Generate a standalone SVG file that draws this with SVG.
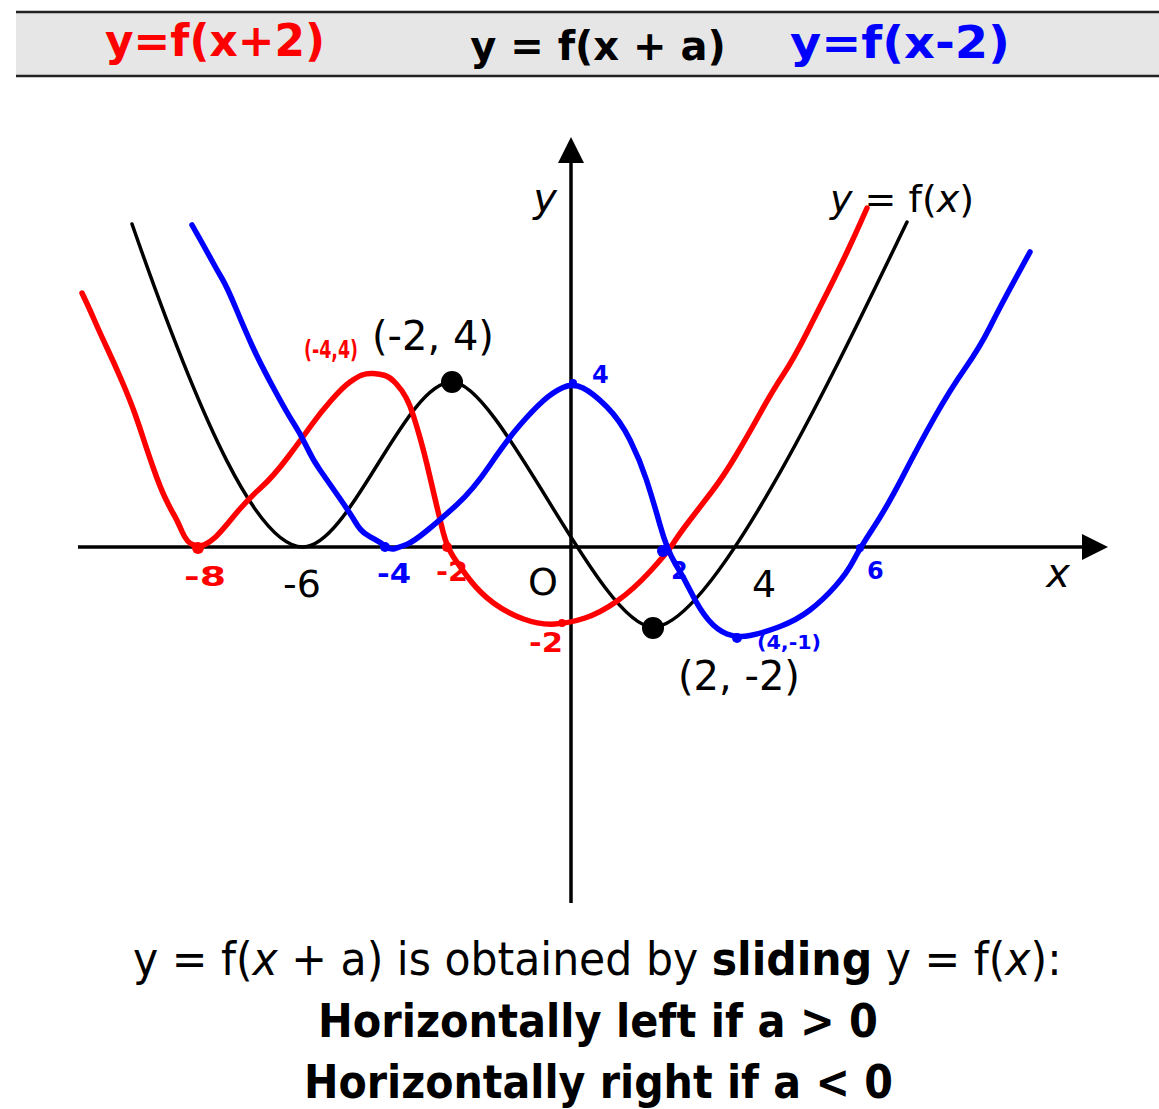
<svg xmlns="http://www.w3.org/2000/svg" width="1159" height="1109" viewBox="0 0 1159 1109">
<style>
.t{font-family:"DejaVu Sans","Liberation Sans",sans-serif;fill:#000}
.hw{font-family:"DejaVu Sans","Liberation Sans",sans-serif;font-weight:bold}
.red{fill:#ff0000}
.blue{fill:#0000ff}
.crv{fill:none;stroke-linejoin:round;stroke-linecap:round}
</style>
<rect width="1159" height="1109" fill="#ffffff"/>
<g id="header">
<rect x="16" y="12" width="1143" height="64" fill="#e6e6e6"/>
<line x1="16" y1="12" x2="1159" y2="12" stroke="#222" stroke-width="2.5"/>
<line x1="16" y1="76" x2="1159" y2="76" stroke="#222" stroke-width="2.5"/>
<text class="t" x="598" y="60" font-size="40" font-weight="bold" text-anchor="middle">y = f(x + a)</text>
<text class="hw red" x="105" y="56" font-size="44" textLength="220" lengthAdjust="spacingAndGlyphs">y=f(x+2)</text>
<text class="hw blue" x="790" y="58" font-size="44" textLength="220" lengthAdjust="spacingAndGlyphs">y=f(x-2)</text>
</g>
<g id="axes">
<line x1="571" y1="903" x2="571" y2="160" stroke="#000" stroke-width="3.5"/>
<polygon points="571,137 584,163 558,163" fill="#000"/>
<line x1="78" y1="547" x2="1085" y2="547" stroke="#000" stroke-width="3.5"/>
<polygon points="1108,547 1082,534 1082,560" fill="#000"/>
</g>
<g id="curve-f">
<path class="crv" stroke="#000" stroke-width="3.5" d="M132,224 C202,425 258,547 303,547 C350,547 405,382 452,382 C500,382 600,627 653,627 C715,627 845,350 907,222"/>
<circle cx="452" cy="382" r="11" fill="#000"/>
<circle cx="653" cy="628" r="11" fill="#000"/>
</g>
<g id="curve-red">
<path class="crv" stroke="#ff0000" stroke-width="5.5" d="M82,293 L86,301.5 Q90,310 95,321.5 Q100,333 107.5,349 Q115,365 122.5,382.5 Q130,400 135,414 Q140,428 143.5,439 Q147,450 153.5,468.5 Q160,487 165,497.5 Q170,508 173.5,514 Q177,520 182,531.5 Q187,543 193.5,545 Q200,547 205,544.5 Q210,542 215,537.5 Q220,533 233.5,516.5 Q247,500 260,488.5 Q273,477 288,457 Q303,437 311.5,425 Q320,413 331.5,400 Q343,387 350,382 Q357,377 362,375 Q367,373 373.5,373.5 Q380,374 385,375.5 Q390,377 396,383.5 Q402,390 406,397.5 Q410,405 413.5,416 Q417,427 420.5,439.5 Q424,452 427,464.5 Q430,477 435,498.5 Q440,520 443.5,533.5 Q447,547 453.5,557 Q460,567 470,580 Q480,593 493.5,603 Q507,613 523.5,619 Q540,625 555,624 Q570,623 585,618 Q600,613 616.5,601.5 Q633,590 650,571.5 Q667,553 673.5,543 Q680,533 690,520 Q700,507 711.5,492 Q723,477 735,457 Q747,437 760,413.5 Q773,390 783,375 Q793,360 806.5,333.5 Q820,307 830,287 Q840,267 847.5,251 Q855,235 861,221.5 L867,208"/>
<circle cx="198" cy="548" r="6" fill="#ff0000"/>
<circle cx="447" cy="547" r="5" fill="#ff0000"/>
<circle cx="562" cy="623" r="4" fill="#ff0000"/>
</g>
<g id="curve-blue">
<path class="crv" stroke="#0000ff" stroke-width="5.5" d="M192,225 L198.5,236.5 Q205,248 211,259 Q217,270 222,278.5 Q227,287 236,308.5 Q245,330 252.5,346.5 Q260,363 273.5,388 Q287,413 293.5,423 Q300,433 306.5,446.5 Q313,460 320,470 Q327,480 338.5,496.5 Q350,513 355,521.5 Q360,530 365,533.5 Q370,537 375,539.5 Q380,542 385,546 Q390,550 395,548.5 Q400,547 406.5,544.5 Q413,542 426.5,531 Q440,520 456.5,505 Q473,490 490,465 Q507,440 520,425 Q533,410 543,401 Q553,392 563,387.5 Q573,383 583,388 Q593,393 606.5,406.5 Q620,420 630,440 Q640,460 646.5,480 Q653,500 660,525 Q667,550 675.5,564 Q684,578 692,594 Q700,610 708.5,620 Q717,630 727,634 Q737,638 750,635.5 Q763,633 780,626.5 Q797,620 810,610 Q823,600 835,586.5 Q847,573 853.5,560.5 Q860,548 873.5,527.5 Q887,507 903.5,475 Q920,443 935,416.5 Q950,390 965,368.5 Q980,347 990,327 Q1000,307 1015,279.5 L1030,252"/>
<circle cx="385" cy="547" r="5" fill="#0000ff"/>
<circle cx="663" cy="551" r="6" fill="#0000ff"/>
<circle cx="573" cy="383" r="4" fill="#0000ff"/>
<circle cx="737" cy="638" r="5" fill="#0000ff"/>
<circle cx="860" cy="548" r="4" fill="#0000ff"/>
</g>
<g id="labels">
<text class="t" x="545" y="212" font-size="40" font-style="italic" text-anchor="middle">y</text>
<text class="t" x="830" y="212" font-size="38"><tspan font-style="italic">y</tspan> = f(<tspan font-style="italic">x</tspan>)</text>
<text class="t" x="372" y="350" font-size="40">(-2, 4)</text>
<text class="t" x="302" y="597" font-size="38" text-anchor="middle">-6</text>
<text class="t" x="543" y="595" font-size="38" text-anchor="middle">O</text>
<text class="t" x="764" y="597" font-size="38" text-anchor="middle">4</text>
<text class="t" x="1058" y="587" font-size="40" font-style="italic" text-anchor="middle">x</text>
<text class="t" x="678" y="690" font-size="40">(2, -2)</text>
</g>
<g id="annotations">
<text class="hw red" x="304" y="358" font-size="24" textLength="54" lengthAdjust="spacingAndGlyphs">(-4,4)</text>
<text class="hw red" x="184" y="586" font-size="26" textLength="42" lengthAdjust="spacingAndGlyphs">-8</text>
<text class="hw blue" x="377" y="583" font-size="26" textLength="34" lengthAdjust="spacingAndGlyphs">-4</text>
<text class="hw red" x="436" y="581" font-size="26" textLength="32" lengthAdjust="spacingAndGlyphs">-2</text>
<text class="hw red" x="529" y="652" font-size="26" textLength="34" lengthAdjust="spacingAndGlyphs">-2</text>
<text class="hw blue" x="592" y="383" font-size="24">4</text>
<text class="hw blue" x="671" y="579" font-size="24">2</text>
<text class="hw blue" x="867" y="579" font-size="24">6</text>
<text class="hw blue" x="757" y="649" font-size="20" textLength="64" lengthAdjust="spacingAndGlyphs">(4,-1)</text>
</g>
<g id="caption">
<text class="t" transform="translate(133,975) scale(0.926,1)" x="0" y="0" font-size="46">y = f(<tspan font-style="italic">x</tspan> + a) is obtained by <tspan font-weight="bold">sliding</tspan> y = f(<tspan font-style="italic">x</tspan>):</text>
<text class="t" x="318" y="1037" font-size="46" font-weight="bold" textLength="560" lengthAdjust="spacingAndGlyphs">Horizontally left if a &gt; 0</text>
<text class="t" x="304" y="1098" font-size="46" font-weight="bold" textLength="589" lengthAdjust="spacingAndGlyphs">Horizontally right if a &lt; 0</text>
</g>
</svg>
